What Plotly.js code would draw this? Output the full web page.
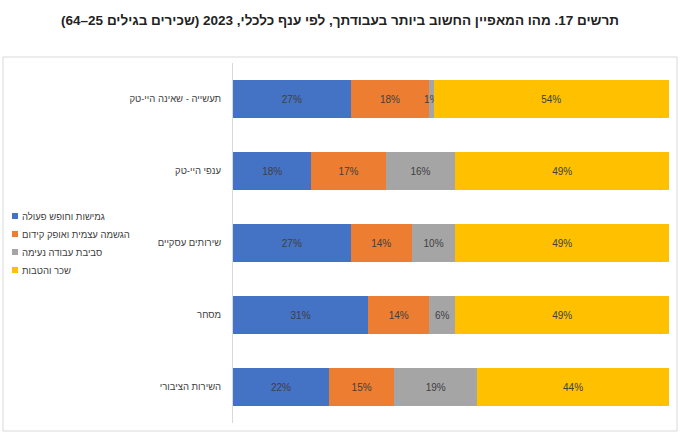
<!DOCTYPE html>
<html>
<head>
<meta charset="utf-8">
<script src="https://cdn.plot.ly/plotly-3.0.1.min.js"></script>
<style>
html,body{margin:0;padding:0;background:#fff;}
#chart{width:680px;height:434px;}
</style>
</head>
<body>
<div id="chart"></div>
<script>
const categories = ['תעשייה - שאינה היי-טק', 'ענפי היי-טק', 'שירותים עסקיים', 'מסחר', 'השירות הציבורי'];
const seriesNames = ['גמישות וחופש פעולה', 'הגשמה עצמית ואופק קידום', 'סביבת עבודה נעימה', 'שכר והטבות'];
const flexibility = [27, 18, 27, 31, 22];
const selfFulfil = [18, 17, 14, 14, 15];
const environment = [1, 16, 10, 6, 19];
const salary = [54, 49, 49, 49, 44];
const colors = ['#4472C4', '#ED7D31', '#A5A5A5', '#FFC000'];
const titleText = 'תרשים 17. מהו המאפיין החשוב ביותר בעבודתך, לפי ענף כלכלי, 2023 (שכירים בגילים 25–64)';

const allSeries = [flexibility, selfFulfil, environment, salary];
const font = 'Liberation Sans, Arial, DejaVu Sans, sans-serif';

const traces = allSeries.map((vals, i) => ({
  type: 'bar',
  orientation: 'h',
  name: seriesNames[i],
  y: categories,
  x: vals,
  marker: {color: colors[i], line: {width: 0}},
  text: vals.map(v => v + '%'),
  textposition: 'inside',
  insidetextanchor: 'middle',
  textangle: 0,
  textfont: {family: font, size: 10, color: '#404040'},
  hoverinfo: 'skip'
}));

const L = 233, R = 11, T = 63, B = 11;
const W = 680 - L - R, H = 434 - T - B;
const px = x => (x - L) / W;
const py = y => (434 - B - y) / H;

const layout = {
  width: 680, height: 434,
  margin: {l: L, r: R, t: T, b: B, pad: 0},
  paper_bgcolor: '#fff', plot_bgcolor: '#fff',
  barmode: 'stack',
  bargap: 0.47,
  showlegend: true,
  uniformtext: {mode: 'show', minsize: 10},
  title: {
    text: '<b>\u202B' + titleText + '\u202C</b>',
    font: {family: font, size: 13.5, color: '#222'},
    x: 0.5, xanchor: 'center', xref: 'container',
    y: 1 - 20 / 434, yanchor: 'middle', yref: 'container'
  },
  xaxis: {range: [0, 100], showticklabels: false, showgrid: false, zeroline: false, showline: false, fixedrange: true},
  yaxis: {
    autorange: 'reversed', showgrid: false, zeroline: false, automargin: false,
    showline: true, linecolor: '#d9d9d9', linewidth: 1,
    ticks: '', ticklabelstandoff: 9,
    tickfont: {family: font, size: 9.5, color: '#404040'}
  },
  legend: {
    x: 0.05, xanchor: 'left', y: 0.6, yanchor: 'top',
    traceorder: 'normal',
    font: {family: font, size: 9.5, color: '#404040'},
    bgcolor: 'rgba(0,0,0,0)', itemwidth: 30, tracegroupgap: 0
  },
  shapes: [{
    type: 'rect', xref: 'paper', yref: 'paper',
    x0: px(3), x1: px(677), y0: py(431), y1: py(57),
    line: {color: '#d9d9d9', width: 1}, fillcolor: 'rgba(0,0,0,0)', layer: 'below'
  }]
};

Plotly.newPlot('chart', traces, layout, {displayModeBar: false, staticPlot: true}).then(gd => {
  const legend = gd.querySelector('.legend');
  if (!legend) return;
  // smaller square symbols and tighter text gap, like the reference legend
  legend.querySelectorAll('.legendpoints path').forEach(p => p.setAttribute('d', 'M3,3H-3V-3H3Z'));
  legend.querySelectorAll('.legendtext').forEach(t => t.setAttribute('x', 27));
  // even row spacing of 18px
  const items = legend.querySelectorAll('.traces');
  const re = /translate\(([-\d.]+)[ ,]+([-\d.]+)\)/;
  const m0 = re.exec(items[0].getAttribute('transform') || '');
  const y0 = m0 ? parseFloat(m0[2]) : 0;
  items.forEach((g, i) => {
    const m = re.exec(g.getAttribute('transform') || '');
    const x0 = m ? parseFloat(m[1]) : 0;
    g.setAttribute('transform', 'translate(' + x0 + ',' + (y0 + 18 * i) + ')');
  });
  // place legend so the first symbol sits at x=12 and first row centre at y=216
  const sym = legend.querySelector('.legendpoints path').getBoundingClientRect();
  const svgRect = gd.querySelector('.main-svg').getBoundingClientRect();
  const cx = sym.left - svgRect.left, cy = (sym.top + sym.bottom) / 2 - svgRect.top;
  const mt = re.exec(legend.getAttribute('transform') || '');
  const lx = mt ? parseFloat(mt[1]) : 0, ly = mt ? parseFloat(mt[2]) : 0;
  legend.setAttribute('transform', 'translate(' + (lx + 12 - cx) + ',' + (ly + 216 - cy) + ')');
});
</script>
</body>
</html>
